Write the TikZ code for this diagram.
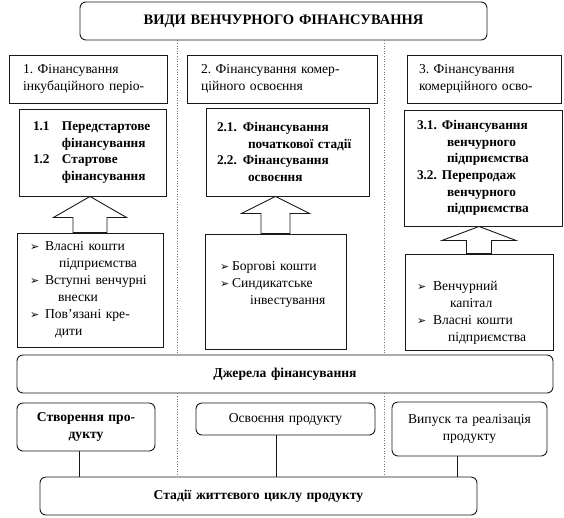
\documentclass[tikz,border=0pt]{standalone}
\usepackage{fontspec}
\setmainfont{Liberation Serif}
\newfontfamily\bulletfont{DejaVu Sans}
\usetikzlibrary{calc}
\frenchspacing
\newcommand\hsp[1]{\hspace*{#1pt}}
\newcommand\myarr{{\bulletfont\fontsize{11}{11}\selectfont ➢}}
\newcommand\blockarrow[5]{%
  \draw[barrow] let \p1=(#1.north), \p2=(#2.south) in
    (\x1,\y2) -- (\x1+#4pt,\y2-#5pt) -- (\x1+#3pt,\y2-#5pt) -- (\x1+#3pt,\y1)
    -- (\x1-#3pt,\y1) -- (\x1-#3pt,\y2-#5pt) -- (\x1-#4pt,\y2-#5pt) -- cycle;}
\begin{document}
\begin{tikzpicture}[x=1pt,y=-1pt,
  base/.style={draw=black!90, line width=0.9pt, inner xsep=0pt, inner ysep=0pt,
    align=left, font=\fontsize{13.6}{17}\selectfont},
  bbox/.style={base, font=\fontsize{13.3}{16.7}\selectfont\bfseries},
  rbox/.style={base, rounded corners=6pt, align=center},
  bold/.style={font=\fontsize{13.6}{17}\selectfont\bfseries},
  sz/.style 2 args={minimum width=#1pt, minimum height=#2pt, text width=#1pt},
  barrow/.style={draw=black!90, line width=0.9pt, fill=white, line join=miter},
  conn/.style={draw=black!90, line width=0.9pt},
  sep/.style={draw=black!55, line width=0.6pt, dotted}]
\fill[white] (0,0) rectangle (564,517);
\useasboundingbox (0,0) rectangle (564,517);

% title
\node[rbox, sz={407}{38}, font=\fontsize{14.5}{17}\selectfont\bfseries] (title) at (283.5,21) {ВИДИ ВЕНЧУРНОГО ФІНАНСУВАННЯ};

% row a
\node[base, sz={158}{48}] (a1) at (88,79) {\hsp{14}1. Фінансування\\\hsp{14}інкубаційного періо-};
\node[base, sz={190}{48}] (a2) at (282,79) {\hsp{14}2. Фінансування комер-\\\hsp{14}ційного освоєння};
\node[base, sz={154}{48}] (a3) at (484,79) {\hsp{12}3. Фінансування\\\hsp{12}комерційного осво-};

% row b
\node[bbox, sz={147}{87}] (b1) at (92.5,152.5) {\hsp{14}\makebox[29pt][l]{1.1}Передстартове\\\hsp{43}фінансування\\\hsp{14}\makebox[29pt][l]{1.2}Стартове\\\hsp{43}фінансування};
\node[bbox, sz={163}{88}] (b2) at (287.5,152) {\hsp{11}\makebox[26pt][l]{2.1.}Фінансування\\\hsp{42}початкової стадії\\\hsp{11}\makebox[26pt][l]{2.2.}Фінансування\\\hsp{42}освоєння};
\node[bbox, sz={158}{116}] (b3) at (483,168) {\hsp{13}\makebox[25pt][l]{3.1.}Фінансування\\\hsp{43}венчурного\\\hsp{43}підприємства\\\hsp{13}\makebox[25pt][l]{3.2.}Перепродаж\\\hsp{43}венчурного\\\hsp{43}підприємства};

% row c
\node[base, sz={146}{114}] (c1) at (90,290) {\hsp{13}\makebox[15pt][l]{\myarr}Власні кошти\\\hsp{42}підприємства\\\hsp{13}\makebox[15pt][l]{\myarr}Вступні венчурні\\\hsp{41}внески\\\hsp{13}\makebox[15pt][l]{\myarr}Пов’язані кре-\\\hsp{38}дити};
\node[base, sz={141}{115}] (c2) at (275.5,291.5) {\hsp{15}\makebox[12pt][l]{\myarr}Боргові кошти\\\hsp{15}\makebox[12pt][l]{\myarr}Синдикатське\\\hsp{45}інвестування\\\mbox{}};
\node[base, sz={148}{96}] (c3) at (479,302) {\rule{0pt}{14pt}\\\hsp{12}\makebox[16pt][l]{\myarr}Венчурний\\\hsp{45}капітал\\\hsp{12}\makebox[16pt][l]{\myarr}Власні кошти\\\hsp{43}підприємства};

% block arrows
\blockarrow{c1}{b1}{17}{36.5}{21}
\blockarrow{c2}{b2}{14.5}{34}{17}
\blockarrow{c3}{b3}{12.5}{37}{14}

% sources
\node[rbox, bold, sz={536}{38}] (src) at (285,374) {Джерела фінансування};

% stages
\node[rbox, bold, sz={138}{48}] (s1) at (86,427) {Створення про-\\дукту};
\node[rbox, sz={179}{32}] (s2) at (285.5,419) {Освоєння продукту};
\node[rbox, sz={155}{54}] (s3) at (469.5,429) {Випуск та реалізація\\продукту};
\node[rbox, bold, sz={437}{38}] (st) at (258.5,496) {Стадії життєвого циклу продукту};

\draw[conn] ([xshift=-7pt]s1.south) -- ([xshift=-7pt]s1.south |- st.north);
\draw[conn] ([xshift=-9.5pt]s2.south) -- ([xshift=-9.5pt]s2.south |- st.north);
\draw[conn] ([xshift=-12.5pt]s3.south) -- ([xshift=-12.5pt]s3.south |- st.north);

% dotted separators
\coordinate (d1) at (177,0);
\coordinate (d2) at (384,0);
\draw[sep] (title.south -| d1) -- (src.north -| d1);
\draw[sep] (src.south -| d1) -- (st.north -| d1);
\draw[sep] (title.south -| d2) -- (src.north -| d2);
\draw[sep] (src.south -| d2) -- (st.north -| d2);
\end{tikzpicture}
\end{document}
